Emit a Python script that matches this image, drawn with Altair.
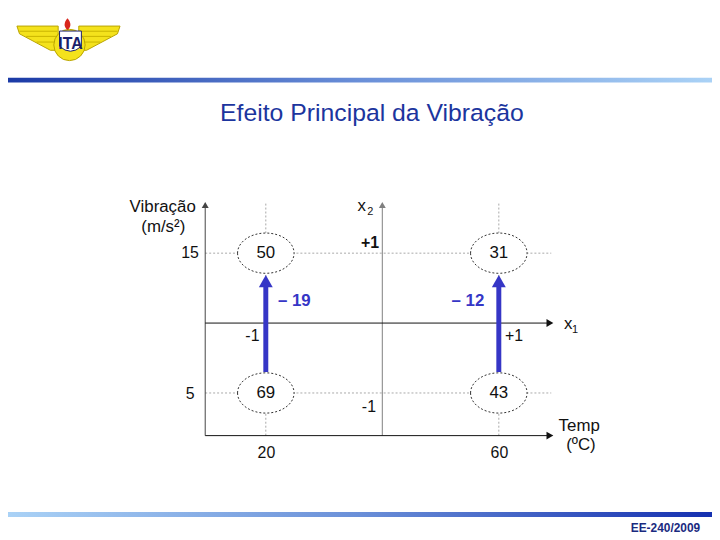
import altair as alt
import pandas as pd

# ---------------- data ----------------
cell_temp = [20, 60, 20, 60]
cell_vib = [15, 15, 5, 5]
cell_values = ["50", "31", "69", "43"]

effect_temp = [20, 60]
effect_from = [6.5, 6.5]
effect_to = [12.75, 12.75]
effect_head = [13.0, 13.0]
effect_labels = ["– 19", "– 12"]
effect_label_x = [24.9, 54.7]
effect_label_y = [11.55, 11.6]

tick_text = ["15", "5", "20", "60"]
tick_x = [7.0, 7.0, 20.1, 60.1]
tick_y = [15.0, 4.9, 0.67, 0.67]

coded_text = ["+1", "-1", "-1", "+1"]
coded_x = [37.9, 17.7, 37.7, 62.6]
coded_y = [15.7, 9.06, 4.0, 9.1]
coded_bold = [True, False, False, False]

title_text = ["Vibração", "(m/s²)", "Temp", "(ºC)", "x", "x"]
title_x = [2.3, 2.4, 73.8, 74.1, 36.45, 71.9]
title_y = [18.28, 16.9, 2.64, 1.26, 18.4, 9.96]
sub_text = ["2", "1"]
sub_x = [37.95, 73.1]
sub_y = [17.93, 9.49]

X_MIN, X_MAX, X_MID = 9.6, 68.4, 40
Y_MIN, Y_MAX, Y_MID = 1.95, 18.3, 10

XS = alt.Scale(domain=[-24.255, 96.596], nice=False, zero=False)
YS = alt.Scale(domain=[-5.213, 32.376], nice=False, zero=False)
FONT = "Liberation Sans, Arial, sans-serif"


def X(f):
    return alt.X(f, type="quantitative", scale=XS, axis=None)


def Y(f):
    return alt.Y(f, type="quantitative", scale=YS, axis=None)


one = pd.DataFrame({"k": [0]})

# ---------------- header / footer decorations ----------------
top_bar = alt.Chart(one).mark_rect(
    fill=alt.Gradient(gradient="linear", x1=0, x2=1, y1=0, y2=0,
                      stops=[alt.GradientStop(color="#1b3aa6", offset=0),
                             alt.GradientStop(color="#6a8fd8", offset=0.5),
                             alt.GradientStop(color="#aad2f6", offset=1)])
).encode(x=alt.value(0), x2=alt.value(710), y=alt.value(68), y2=alt.value(73))

bottom_bar = alt.Chart(one).mark_rect(
    fill=alt.Gradient(gradient="linear", x1=0, x2=1, y1=0, y2=0,
                      stops=[alt.GradientStop(color="#aad2f6", offset=0),
                             alt.GradientStop(color="#6a8fd8", offset=0.5),
                             alt.GradientStop(color="#1530b0", offset=1)])
).encode(x=alt.value(0), x2=alt.value(710), y=alt.value(506), y2=alt.value(511))

WINGS = ("M -1 -0.27 L -0.2 -0.27 L -0.2 0.2 L -0.35 0.2 L -0.95 -0.12 Z "
         "M 1 -0.27 L 0.2 -0.27 L 0.2 0.2 L 0.35 0.2 L 0.95 -0.12 Z")
FEATHERS = ("M -0.95 -0.17 L -0.22 -0.17 M -0.82 -0.07 L -0.22 -0.07 M -0.62 0.04 L -0.22 0.04 "
            "M 0.95 -0.17 L 0.22 -0.17 M 0.82 -0.07 L 0.22 -0.07 M 0.62 0.04 L 0.22 0.04")
SHIELD = "M -1 -1 L 1 -1 L 1 0.4 Q 0 1.3 -1 0.4 Z"
FLAME = "M 0 -1 C 0.6 -0.3 0.7 0.4 0 1 C -0.7 0.4 -0.6 -0.3 0 -1 Z"

logo = alt.layer(
    alt.Chart(one).mark_point(shape=WINGS, filled=True, fill="#f4e21c", stroke="#b8a300",
                              strokeWidth=1, size=10816, opacity=1)
    .encode(x=alt.value(61), y=alt.value(30)),
    alt.Chart(one).mark_point(shape=FEATHERS, filled=False, stroke="#c9b400",
                              strokeWidth=1, size=10816, opacity=1)
    .encode(x=alt.value(61), y=alt.value(30)),
    alt.Chart(one).mark_point(shape="circle", filled=True, fill="#f4e21c", stroke="#b8a300",
                              strokeWidth=1, size=1000, opacity=1)
    .encode(x=alt.value(62), y=alt.value(35)),
    alt.Chart(one).mark_point(shape=SHIELD, filled=True, fill="white", stroke="#1b1f6b",
                              strokeWidth=1, size=484, opacity=1)
    .encode(x=alt.value(63), y=alt.value(32)),
    alt.Chart(one).mark_text(text="ITA", font=FONT, fontSize=16, fontWeight="bold",
                             color="#1b1f6b", baseline="middle", align="center")
    .encode(x=alt.value(63), y=alt.value(34)),
    alt.Chart(one).mark_point(shape=FLAME, filled=True, fill="#d8261c", stroke="#d8261c",
                              strokeWidth=0, size=144, opacity=1)
    .encode(x=alt.value(60), y=alt.value(14)),
)

slide_title = alt.Chart(one).mark_text(
    text="Efeito Principal da Vibração", font=FONT, fontSize=25, color="#1c359e",
    align="center", baseline="middle"
).encode(x=alt.value(367), y=alt.value(104))

footer = alt.Chart(one).mark_text(
    text="EE-240/2009", font="Liberation Sans Narrow, Arial Narrow, sans-serif",
    fontSize=12, fontWeight="bold", color="#1a2a80", align="right", baseline="middle"
).encode(x=alt.value(698), y=alt.value(522))

# ---------------- diagram ----------------
guides_h = pd.DataFrame({"y": [15, 5], "x": [X_MIN, X_MIN], "x2": [69.0, 69.0]})
guides_v = pd.DataFrame({"x": [20, 60], "y": [Y_MIN, Y_MIN], "y2": [18.6, 18.6]})

grid_h = alt.Chart(guides_h).mark_rule(color="#a8a8a8", strokeWidth=1, strokeDash=[2, 2]).encode(
    x=X("x"), x2="x2", y=Y("y"))
grid_v = alt.Chart(guides_v).mark_rule(color="#a8a8a8", strokeWidth=1, strokeDash=[2, 2]).encode(
    x=X("x"), y=Y("y"), y2="y2")

vaxes = pd.DataFrame({"x": [X_MIN, X_MID], "y": [Y_MIN, Y_MIN], "y2": [Y_MAX, Y_MAX],
                      "head": [18.44, 18.44], "c": ["#444444", "#808080"]})
haxes = pd.DataFrame({"y": [Y_MIN, Y_MID], "x": [X_MIN, X_MIN], "x2": [X_MAX, X_MAX],
                      "head": [68.77, 68.77], "c": ["#111111", "#111111"]})

vaxis_lines = alt.Chart(vaxes).mark_rule(strokeWidth=1).encode(
    x=X("x"), y=Y("y"), y2="y2", color=alt.Color("c:N", scale=None))
vaxis_heads = alt.Chart(vaxes).mark_point(shape="triangle-up", filled=True, size=49, opacity=1).encode(
    x=X("x"), y=Y("head"), color=alt.Color("c:N", scale=None))
haxis_lines = alt.Chart(haxes).mark_rule(strokeWidth=1).encode(
    x=X("x"), x2="x2", y=Y("y"), color=alt.Color("c:N", scale=None))
haxis_heads = alt.Chart(haxes).mark_point(shape="triangle-right", filled=True, size=64, opacity=1).encode(
    x=X("head"), y=Y("y"), color=alt.Color("c:N", scale=None))

arrows = pd.DataFrame({"x": effect_temp, "y": effect_from, "y2": effect_to, "head": effect_head})
BLUE = "#3636c6"
arrow_shaft = alt.Chart(arrows).mark_rule(color=BLUE, strokeWidth=5).encode(
    x=X("x"), y=Y("y"), y2="y2")
arrow_head = alt.Chart(arrows).mark_point(shape="triangle-up", filled=True, color=BLUE,
                                          size=196, opacity=1).encode(x=X("x"), y=Y("head"))

ELLIPSE = ("M -1 0 C -1 -0.393 -0.552 -0.712 0 -0.712 C 0.552 -0.712 1 -0.393 1 0 "
           "C 1 0.393 0.552 0.712 0 0.712 C -0.552 0.712 -1 0.393 -1 0 Z")
cells = pd.DataFrame({"x": cell_temp, "y": cell_vib, "t": cell_values})
ellipses = alt.Chart(cells).mark_point(shape=ELLIPSE, filled=True, fill="white", stroke="#333333",
                                       strokeWidth=1, strokeDash=[2, 2], size=3249, opacity=1).encode(
    x=X("x"), y=Y("y"))
cell_text = alt.Chart(cells).mark_text(font=FONT, fontSize=17, color="#111111").encode(
    x=X("x"), y=Y("y"), text="t:N")

eff = pd.DataFrame({"x": effect_label_x, "y": effect_label_y, "t": effect_labels})
eff_text = alt.Chart(eff).mark_text(font=FONT, fontSize=17, fontWeight="bold", color=BLUE).encode(
    x=X("x"), y=Y("y"), text="t:N")

ticks = pd.DataFrame({"x": tick_x, "y": tick_y, "t": tick_text})
tick_labels = alt.Chart(ticks).mark_text(font=FONT, fontSize=16, color="#111111").encode(
    x=X("x"), y=Y("y"), text="t:N")

coded = pd.DataFrame({"x": coded_x, "y": coded_y, "t": coded_text, "b": coded_bold})
coded_reg = alt.Chart(coded[~coded["b"]]).mark_text(font=FONT, fontSize=16, color="#111111").encode(
    x=X("x"), y=Y("y"), text="t:N")
coded_bld = alt.Chart(coded[coded["b"]]).mark_text(font=FONT, fontSize=16, fontWeight="bold",
                                                    color="#111111").encode(
    x=X("x"), y=Y("y"), text="t:N")

titles = pd.DataFrame({"x": title_x, "y": title_y, "t": title_text})
axis_titles = alt.Chart(titles).mark_text(font=FONT, fontSize=17, color="#111111").encode(
    x=X("x"), y=Y("y"), text="t:N")
subs = pd.DataFrame({"x": sub_x, "y": sub_y, "t": sub_text})
sub_labels = alt.Chart(subs).mark_text(font=FONT, fontSize=11, color="#111111").encode(
    x=X("x"), y=Y("y"), text="t:N")

chart = alt.layer(
    top_bar, bottom_bar, logo, slide_title, footer,
    grid_h, grid_v,
    vaxis_lines, vaxis_heads, haxis_lines, haxis_heads,
    arrow_shaft, arrow_head,
    ellipses, cell_text, eff_text,
    tick_labels, coded_reg, coded_bld, axis_titles, sub_labels,
).properties(
    width=710, height=530, padding=0, autosize="none", background="white"
).configure_view(stroke=None)

chart.save("out.html", embed_options={"renderer": "svg", "actions": False})
